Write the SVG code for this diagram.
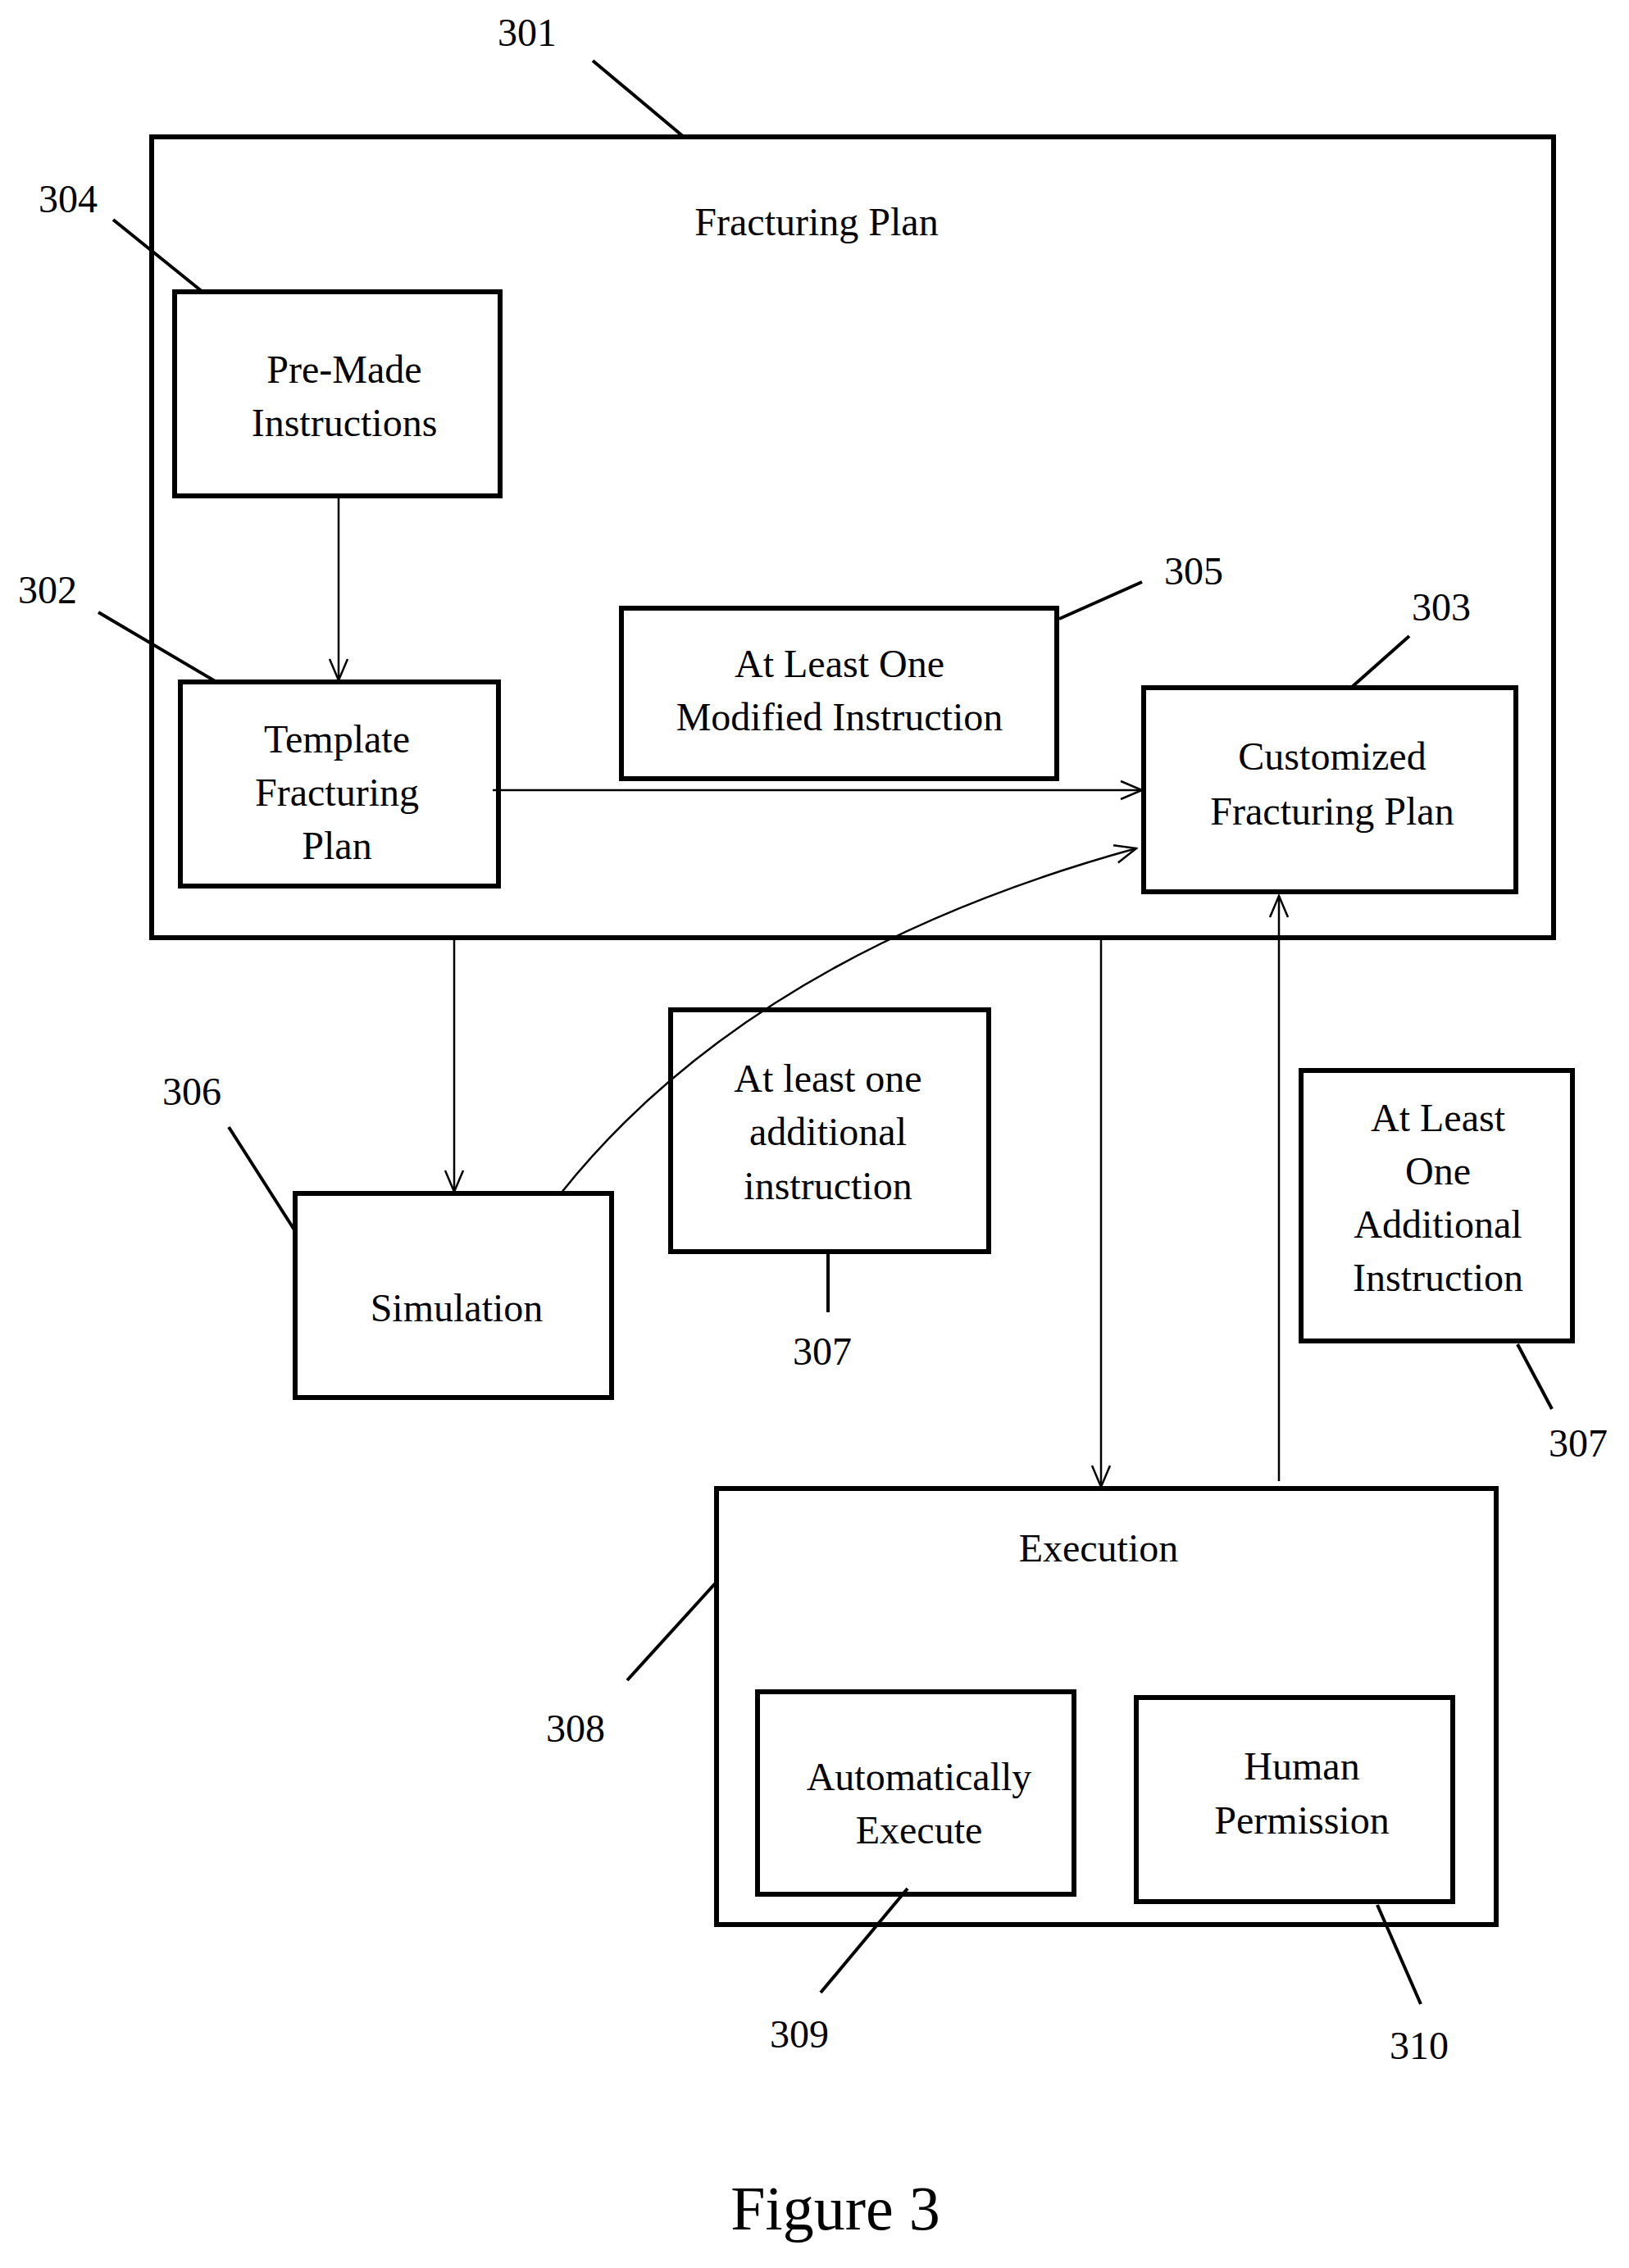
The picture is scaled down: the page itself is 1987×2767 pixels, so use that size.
<svg xmlns="http://www.w3.org/2000/svg" width="1987" height="2767" viewBox="0 0 1987 2767">
<style>
.b{fill:none;stroke:#000;stroke-width:6}
.l{fill:none;stroke:#000;stroke-width:4}
.c{fill:none;stroke:#000;stroke-width:2.5}
text{font-family:"Liberation Serif",serif;font-size:48px;fill:#000;text-anchor:middle}
</style>
<defs><marker id="a" markerWidth="30" markerHeight="30" refX="28" refY="15" orient="auto" markerUnits="userSpaceOnUse"><polyline points="2,4 28,15 2,26" fill="none" stroke="#000" stroke-width="2.5"/></marker></defs>
<rect width="1987" height="2767" fill="#fff"/>
<g id="n301"><rect class="b" x="185" y="167" width="1710" height="977"/><text x="996" y="287">Fracturing Plan</text><text x="643" y="56">301</text><line class="l" x1="723" y1="74" x2="834" y2="167"/></g>
<g id="n304"><rect class="b" x="213" y="356" width="397" height="249"/><text x="420" y="467">Pre-Made</text><text x="420" y="532">Instructions</text><text x="83" y="259">304</text><line class="l" x1="138" y1="268" x2="247" y2="356"/></g>
<g id="n302"><rect class="b" x="220" y="832" width="388" height="249"/><text x="411" y="918">Template</text><text x="411" y="983">Fracturing</text><text x="411" y="1048">Plan</text><text x="58" y="736">302</text><line class="l" x1="120" y1="747" x2="264" y2="832"/></g>
<g id="n305"><rect class="b" x="758" y="742" width="531" height="208"/><text x="1024" y="826">At Least One</text><text x="1024" y="891">Modified Instruction</text><text x="1456" y="713">305</text><line class="l" x1="1292" y1="755" x2="1393" y2="710"/></g>
<g id="n303"><rect class="b" x="1395" y="839" width="454" height="249"/><text x="1625" y="939">Customized</text><text x="1625" y="1006">Fracturing Plan</text><text x="1758" y="757">303</text><line class="l" x1="1648" y1="839" x2="1719" y2="776"/></g>
<g id="n306"><rect class="b" x="360" y="1456" width="386" height="249"/><text x="557" y="1612">Simulation</text><text x="234" y="1348">306</text><line class="l" x1="279" y1="1375" x2="360" y2="1502"/></g>
<g id="n307a"><rect class="b" x="818" y="1232" width="388" height="295"/><text x="1010" y="1332">At least one</text><text x="1010" y="1397">additional</text><text x="1010" y="1463">instruction</text><text x="1003" y="1665">307</text><line class="l" x1="1010" y1="1527" x2="1010" y2="1601"/></g>
<g id="n307b"><rect class="b" x="1587" y="1306" width="331" height="330"/><text x="1754" y="1380">At Least</text><text x="1754" y="1445">One</text><text x="1754" y="1510">Additional</text><text x="1754" y="1575">Instruction</text><text x="1925" y="1777">307</text><line class="l" x1="1851" y1="1640" x2="1893" y2="1719"/></g>
<g id="n308"><rect class="b" x="874" y="1816" width="951" height="532"/><text x="1340" y="1905">Execution</text><text x="702" y="2125">308</text><line class="l" x1="765" y1="2050" x2="874" y2="1930"/></g>
<g id="n309"><rect class="b" x="924" y="2064" width="386" height="247"/><text x="1121" y="2184">Automatically</text><text x="1121" y="2249">Execute</text><text x="975" y="2498">309</text><line class="l" x1="1001" y1="2431" x2="1107" y2="2304"/></g>
<g id="n310"><rect class="b" x="1386" y="2071" width="386" height="249"/><text x="1588" y="2171">Human</text><text x="1588" y="2237">Permission</text><text x="1731" y="2512">310</text><line class="l" x1="1680" y1="2324" x2="1733" y2="2445"/></g>
<g id="connectors">
<line class="c" x1="413" y1="605" x2="413" y2="830" marker-end="url(#a)"/>
<line class="c" x1="601" y1="964" x2="1393" y2="964" marker-end="url(#a)"/>
<line class="c" x1="554" y1="1144" x2="554" y2="1454" marker-end="url(#a)"/>
<path class="c" d="M684,1456 Q917,1164 1386,1035" marker-end="url(#a)"/>
<line class="c" x1="1343" y1="1144" x2="1343" y2="1814" marker-end="url(#a)"/>
<line class="c" x1="1560" y1="1807" x2="1560" y2="1093" marker-end="url(#a)"/>
</g>
<text x="1019" y="2720" style="font-size:76px">Figure 3</text>
</svg>
